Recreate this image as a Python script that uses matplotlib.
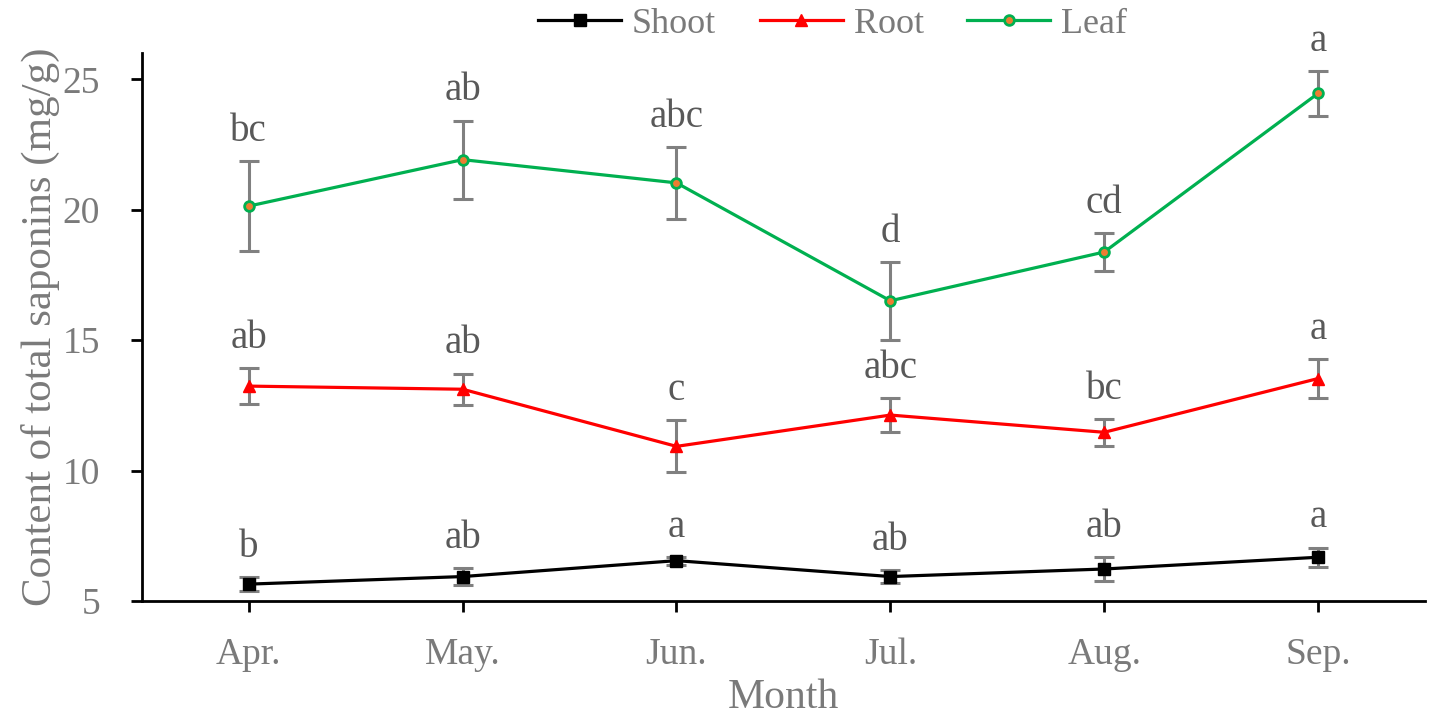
import numpy as np
import matplotlib.pyplot as plt

months = ['Apr.', 'May.', 'Jun.', 'Jul.', 'Aug.', 'Sep.']

shoot = [5.65, 5.94, 6.55, 5.94, 6.23, 6.68]
shoot_err = [0.28, 0.32, 0.15, 0.25, 0.45, 0.37]
shoot_sig = ['b', 'ab', 'a', 'ab', 'ab', 'a']

root = [13.24, 13.12, 10.93, 12.13, 11.47, 13.53]
root_err = [0.69, 0.6, 1.0, 0.66, 0.52, 0.74]
root_sig = ['ab', 'ab', 'c', 'abc', 'bc', 'a']

leaf = [20.14, 21.92, 21.03, 16.51, 18.38, 24.46]
leaf_err = [1.73, 1.5, 1.37, 1.5, 0.72, 0.87]
leaf_sig = ['bc', 'ab', 'abc', 'd', 'cd', 'a']

plt.rcParams['font.family'] = ['Liberation Serif', 'DejaVu Serif']

fig = plt.figure(figsize=(14.33, 7.19), dpi=100)
ax = fig.add_axes([0.099, 0.164, 0.8954, 0.762])

x = np.arange(len(months))
gray_txt = '#7a7a7a'
series = [
    ('Shoot', shoot, shoot_err, shoot_sig, 'black', dict(marker='s', ms=8, mfc='black', mec='black')),
    ('Root', root, root_err, root_sig, '#ff0000', dict(marker='^', ms=8, mfc='#ff0000', mec='#ff0000')),
    ('Leaf', leaf, leaf_err, leaf_sig, '#00b050', dict(marker='o', ms=7, mfc='#ed7d31', mec='#00b050', mew=2)),
]

for name, vals, err, sig, col, mk in series:
    ax.errorbar(x, vals, yerr=err, fmt='none', ecolor='#808080', elinewidth=2.2,
                capsize=7, capthick=2.2, zorder=2)
    ax.plot(x, vals, color=col, lw=2.3, label=name, zorder=3, **mk)
    for xi, v, e, s in zip(x, vals, err, sig):
        ax.annotate(s, (xi, v + e), xytext=(0, 8), textcoords='offset points',
                    ha='center', va='bottom', fontsize=28, color='#595959')

ax.set_xlim(-0.5, 5.5)
ax.set_ylim(5, 26)
ax.set_yticks([5, 10, 15, 20, 25])
ax.set_xticks(x)
ax.set_xticklabels(months)
ax.tick_params(axis='both', labelsize=27, labelcolor=gray_txt, width=2, length=8,
               direction='out', color='black')
ax.tick_params(axis='x', pad=18)
ax.tick_params(axis='y', pad=22)
for sp in ['top', 'right']:
    ax.spines[sp].set_visible(False)
for sp in ['left', 'bottom']:
    ax.spines[sp].set_linewidth(2)

ax.set_xlabel('Month', fontsize=30, color=gray_txt, labelpad=5)
ax.set_ylabel('Content of total saponins (mg/g)', fontsize=31, color=gray_txt, labelpad=2)

fig.legend(loc='upper center', bbox_to_anchor=(0.581, 1.035), ncol=3, frameon=False,
           fontsize=26, labelcolor=gray_txt, handlelength=2.3, columnspacing=1.2,
           handletextpad=0.3)

fig.savefig('out.png', dpi=100)
